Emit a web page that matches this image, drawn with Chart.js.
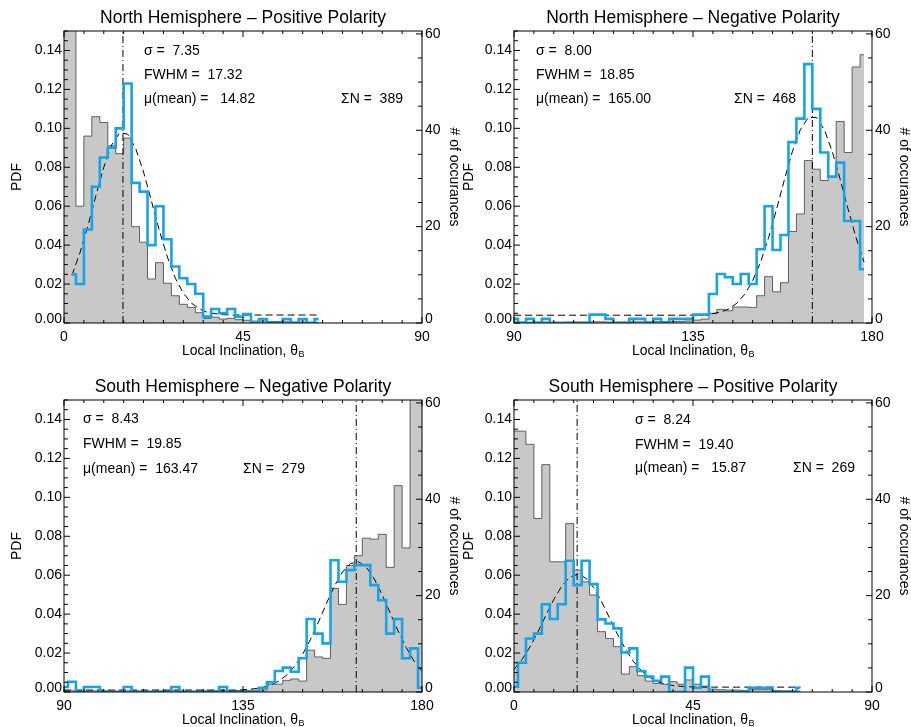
<!DOCTYPE html>
<html>
<head>
<meta charset="utf-8">
<script src="https://cdn.jsdelivr.net/npm/chart.js@4.4.1/dist/chart.umd.min.js"></script>
<style>
  body { margin: 0; background: #fff; }
  #wrap { position: relative; width: 911px; height: 727px; overflow: hidden; background: #fff; }
  canvas { position: absolute; }
</style>
</head>
<body>
<div id="wrap">
  <canvas id="c0" width="470" height="370" style="left:0;top:0"></canvas>
  <canvas id="c1" width="461" height="370" style="left:450px;top:0"></canvas>
  <canvas id="c2" width="470" height="367" style="left:0;top:360px"></canvas>
  <canvas id="c3" width="461" height="367" style="left:450px;top:360px"></canvas>
</div>
<script>
// bin centres (degrees)
var incPos = [0,2,4,6,8,10,12,14,16,18,20,22,24,26,28,30,32,34,36,38,40,42,44,46,48,50,52,54,56,58,60,62,64,66,68,70,72,74,76,78,80,82,84,86,88,90];
var incNeg = [90,92,94,96,98,100,102,104,106,108,110,112,114,116,118,120,122,124,126,128,130,132,134,136,138,140,142,144,146,148,150,152,154,156,158,160,162,164,166,168,170,172,174,176,178,180];

var pdfTicks = [0, 0.02, 0.04, 0.06, 0.08, 0.10, 0.12, 0.14];
var countTicks = [0, 20, 40, 60];

// North, positive polarity
var grayNP = [0.2,0.2,0.060,0.096,0.106,0.103,0.091,0.087,0.095,0.0495,0.0415,0.0226,0.031,0.0204,0.014,0.0096,0.008,0.0053,0.0024,0.003,0.002,0.0024,0.0017,0.0014,0.001,0.001,0.0008,0.0008,0.0006,0.0005,0.0005,0.0004,0.0003,null,null,null,null,null,null,null,null,null,null,null,null,null];
var blueNP = [null,0.025,0.020,0.048,0.070,0.085,0.090,0.100,0.123,0.072,0.0675,0.040,0.060,0.043,0.029,0.023,0.020,0.015,0.0033,0.0072,0.005,0.0072,0.0033,0.0046,0,0.002,0,0,0.002,0,0.002,0,0.002,null,null,null,null,null,null,null,null,null,null,null,null,null];
var fitNP = [null,0.0245,0.036,0.0498,0.0653,0.080,0.0915,0.0978,0.097,0.0898,0.0775,0.0625,0.0473,0.0338,0.023,0.0153,0.0103,0.0073,0.0055,0.0048,0.0043,0.0041,0.0041,0.0041,0.0041,0.0041,0.0041,0.0041,0.0041,0.0041,0.0041,0.0041,0.0041,null,null,null,null,null,null,null,null,null,null,null,null,null];

// North, negative polarity
var grayNN = [0.0005,0.0005,0.0004,0.0005,0.0005,0.0004,0.0004,0.0005,0.0005,0.0005,0.0006,0.0006,0.0005,0.0005,0.0005,0.0006,0.0006,0.0006,0.0007,0.0007,0.0008,0.0008,0.001,0.0015,0.002,0.005,0.007,0.0063,0.0082,0.0082,0.008,0.014,0.0238,0.016,0.0207,0.047,0.056,0.0835,0.079,0.0732,0.0752,0.1035,0.0876,0.1315,0.1378,null];
var blueNN = [0.0021,0,0.0021,0,0.0021,0,0,0,0,0,0.0043,0.0043,0.0021,0,0,0.0021,0.0021,0,0.0021,0,0.0021,0.0021,0.0021,0.0043,0.0043,0.0149,0.0252,0.0235,0.020,0.0252,0.020,0.0379,0.060,0.0375,0.0452,0.0929,0.105,0.133,0.110,0.0876,0.0752,0.0824,0.0524,0.0524,0.0276,null];
var fitNN = [0.004,0.004,0.004,0.004,0.004,0.004,0.004,0.004,0.004,0.004,0.004,0.004,0.004,0.004,0.004,0.004,0.004,0.004,0.004,0.004,0.004,0.004,0.004,0.0041,0.0043,0.0048,0.0056,0.0073,0.0101,0.0147,0.0217,0.0313,0.0438,0.0584,0.0738,0.0882,0.0994,0.1056,0.1056,0.0994,0.0882,0.0738,0.0584,0.0438,0.0313,null];

// South, negative polarity
var graySN = [0.0006,0.0006,0.0005,0.0005,0.0006,0.0006,0.0005,0.0005,0.0006,0.0006,0.0005,0.0005,0.0006,0.0006,0.0006,0.0005,0.0005,0.0006,0.0006,0.0007,0.0007,0.0007,0.0008,0.0008,0.0009,0.001,0.004,0.004,0.006,0.0067,0.0056,0.0215,0.018,0.0173,0.0532,0.045,0.065,0.070,0.079,0.0785,0.081,0.064,0.106,0.074,0.2,0.2];
var blueSN = [0.0026,0.0053,0,0.0026,0.0026,0,0,0,0.0026,0,0,0,0,0,0.0026,0,0,0,0,0,0.0026,0,0,0,0,0.0022,0.005,0.0108,0.0125,0.0104,0.0173,0.0375,0.030,0.025,0.0677,0.0566,0.0626,0.0652,0.0652,0.0549,0.0472,0.030,0.0375,0.0173,0.0224,0.0022];
var fitSN = [0.001,0.001,0.001,0.001,0.001,0.001,0.001,0.001,0.001,0.001,0.001,0.001,0.001,0.001,0.001,0.001,0.001,0.001,0.001,0.001,0.001,0.001,0.001,0.0013,0.0017,0.0024,0.0036,0.0056,0.0087,0.0133,0.0194,0.0271,0.0361,0.0456,0.0545,0.0616,0.066,0.0669,0.0641,0.0581,0.0499,0.0406,0.0313,0.0229,0.0159,0.0107];

// South, positive polarity
var graySP = [0.134,0.134,0.1272,0.0891,0.1168,0.0669,0.0669,0.0865,0.0626,0.0566,0.0498,0.031,0.0275,0.0233,0.0092,0.013,0.0084,0.0056,0.0044,0.004,0.0053,0.004,0.0062,0.004,0.003,0.0015,0.0012,0.001,0.001,0.0008,0.0012,0.0012,0.0012,0.0008,0.0006,0.0006,0.0005,null,null,null,null,null,null,null,null,null];
var blueSP = [0.0027,0.015,0.0275,0.030,0.0451,0.0375,0.0451,0.0674,0.0549,0.0674,0.0554,0.0373,0.0352,0.0327,0.0203,0.0224,0.0108,0.0079,0.0058,0.0079,0,0,0.0125,0.0022,0.0079,0,0,0,0,0,0.0022,0.0022,0.0022,0,0,0,0.0022,null,null,null,null,null,null,null,null,null];
var fitSP = [0.0116,0.0166,0.0231,0.0308,0.0393,0.0475,0.0544,0.059,0.0605,0.0586,0.0537,0.0465,0.0381,0.0297,0.0221,0.0158,0.011,0.0077,0.0054,0.0041,0.0033,0.0029,0.0027,0.0025,0.0025,0.0025,0.0025,0.0025,0.0025,0.0025,0.0025,0.0025,0.0025,0.0025,0.0025,0.0025,0.0025,null,null,null,null,null,null,null,null,null];

var sigmas = ['7.35', '8.00', '8.43', '8.24'];
var fwhms = ['17.32', '18.85', '19.85', '19.40'];
var means = [14.82, 165.00, 163.47, 15.87];
var counts = [389, 468, 279, 269];

var Y_MAX = 0.15, N_MAX = 60.6;
var BLUE = '#17a3e8';
var FONT = '"Liberation Sans", Arial, Helvetica, sans-serif';

Chart.defaults.font.family = FONT;
Chart.defaults.font.size = 14;
Chart.defaults.color = '#000';

var panels = [
  { id: 'c0', title: 'North Hemisphere \u2013 Positive Polarity', bins: incPos, lo: 0, hi: 90,
    gray: grayNP, blue: blueNP, fit: fitNP, k: 0, top: 31, bottom: 323,
    notes: [80, 277, 19.7, 44, 68.3], meanPad: '   ', pdfX: 47 },
  { id: 'c1', title: 'North Hemisphere \u2013 Negative Polarity', bins: incNeg, lo: 90, hi: 180,
    gray: grayNN, blue: blueNN, fit: fitNN, k: 1, top: 31, bottom: 323,
    notes: [22, 220, 19.7, 44, 68.3], meanPad: '  ', pdfX: 45 },
  { id: 'c2', title: 'South Hemisphere \u2013 Negative Polarity', bins: incNeg, lo: 90, hi: 180,
    gray: graySN, blue: blueSN, fit: fitSN, k: 2, top: 40, bottom: 332,
    notes: [19, 179, 19.5, 44.5, 69.5], meanPad: '  ', pdfX: 47 },
  { id: 'c3', title: 'South Hemisphere \u2013 Positive Polarity', bins: incPos, lo: 0, hi: 90,
    gray: graySP, blue: blueSP, fit: fitSP, k: 3, top: 40, bottom: 332,
    notes: [121, 279, 20.5, 44.8, 68.5], meanPad: '   ', pdfX: 45 }
];

// box, inward ticks, y labels and the text of each panel
var framePlugin = {
  id: 'frame',
  afterDatasetsDraw: function (chart, args, p) {
    var ctx = chart.ctx, a = chart.chartArea;
    var x = chart.scales.x, y = chart.scales.y, y2 = chart.scales.y2;
    ctx.save();
    ctx.strokeStyle = '#000';
    ctx.lineWidth = 1;
    ctx.strokeRect(a.left, a.top, a.right - a.left, a.bottom - a.top);
    ctx.beginPath();
    for (var v = x.min; v <= x.max; v += 5) {
      var px = x.getPixelForValue(v);
      var len = (v % 45 === 0) ? 6 : 3;
      ctx.moveTo(px, a.bottom); ctx.lineTo(px, a.bottom - len);
      ctx.moveTo(px, a.top); ctx.lineTo(px, a.top + len);
    }
    for (var i = 0; i <= 30; i++) {
      var py = y.getPixelForValue(i * 0.005);
      ctx.moveTo(a.left, py); ctx.lineTo(a.left + (i % 4 === 0 ? 6 : 4), py);
    }
    for (var n = 0; n <= 60; n += 5) {
      var qy = y2.getPixelForValue(n);
      ctx.moveTo(a.right, qy); ctx.lineTo(a.right - (n % 20 === 0 ? 6 : 4), qy);
    }
    ctx.stroke();
    ctx.restore();
  },
  afterDraw: function (chart, args, p) {
    var ctx = chart.ctx, a = chart.chartArea;
    var y = chart.scales.y, y2 = chart.scales.y2;
    var cx = (a.left + a.right) / 2, cy = (a.top + a.bottom) / 2;
    ctx.save();
    ctx.fillStyle = '#000';
    ctx.textBaseline = 'middle';

    // axis labels; the bottom ones sit a little above the axis
    ctx.font = '14px ' + FONT;
    ctx.textAlign = 'right';
    pdfTicks.forEach(function (v) {
      ctx.fillText(v.toFixed(2), a.left - 2, y.getPixelForValue(v) - (v === 0 ? 3.5 : 0));
    });
    ctx.textAlign = 'left';
    countTicks.forEach(function (v) {
      ctx.fillText(String(v), a.right + 3, y2.getPixelForValue(v) - (v === 0 ? 3.5 : 0));
    });

    ctx.textAlign = 'center';
    ctx.font = '17.5px ' + FONT;
    ctx.fillText(p.title, cx, a.top - 12.7);

    ctx.font = '14px ' + FONT;
    ctx.textAlign = 'left';
    var nx = a.left + p.notes[0];
    ctx.fillText('\u03c3 =  ' + sigmas[p.k], nx, a.top + p.notes[2]);
    ctx.fillText('FWHM =  ' + fwhms[p.k], nx, a.top + p.notes[3]);
    ctx.fillText('\u03bc(mean) =' + p.meanPad + means[p.k].toFixed(2), nx, a.top + p.notes[4]);
    ctx.fillText('\u03a3N =  ' + counts[p.k], a.left + p.notes[1], a.top + p.notes[4]);

    // x title with subscript
    var main = 'Local Inclination, \u03b8';
    var w1 = ctx.measureText(main).width;
    ctx.font = '9px ' + FONT;
    var w2 = ctx.measureText('B').width;
    var sx = cx - (w1 + w2) / 2, sy = a.bottom + 28;
    ctx.font = '14px ' + FONT;
    ctx.fillText(main, sx, sy);
    ctx.font = '9px ' + FONT;
    ctx.fillText('B', sx + w1 + 0.5, sy + 4);

    ctx.font = '14px ' + FONT;
    ctx.textAlign = 'center';
    ctx.save();
    ctx.translate(a.left - p.pdfX, cy);
    ctx.rotate(-Math.PI / 2);
    ctx.fillText('PDF', 0, 0);
    ctx.restore();
    ctx.save();
    ctx.translate(a.right + 32, cy);
    ctx.rotate(Math.PI / 2);
    ctx.fillText('# of occurances', 0, 0);
    ctx.restore();
    ctx.restore();
  }
};

function pts(bins, vals) {
  return bins.map(function (b, i) { return { x: b, y: vals[i] }; });
}

panels.forEach(function (p) {
  var cv = document.getElementById(p.id);
  var W = cv.width, H = cv.height;
  var L = 64, R = 422;
  new Chart(cv, {
    type: 'line',
    data: {
      datasets: [
        { data: pts(p.bins, p.blue), borderColor: BLUE, borderWidth: 2.6, stepped: 'middle',
          pointRadius: 0, fill: false },
        { data: pts(p.bins, p.fit), borderColor: '#000', borderWidth: 1, borderDash: [7, 4],
          pointRadius: 0, fill: false },
        { data: [{ x: means[p.k], y: 0 }, { x: means[p.k], y: Y_MAX }], borderColor: '#000',
          borderWidth: 1, borderDash: [7, 3, 1, 3], pointRadius: 0, fill: false },
        { data: pts(p.bins, p.gray), borderColor: '#5e5e5e', borderWidth: 1, backgroundColor: '#c8c8c8',
          stepped: 'middle', pointRadius: 0, fill: 'origin' }
      ]
    },
    options: {
      responsive: false,
      animation: false,
      devicePixelRatio: 1,
      layout: { padding: { top: p.top, left: 0, right: 0, bottom: 0 } },
      plugins: { legend: { display: false }, tooltip: { enabled: false }, frame: p },
      scales: {
        x: {
          type: 'linear', min: p.lo, max: p.hi,
          afterFit: function (s) { s.height = H - p.bottom; },
          ticks: { stepSize: 45, padding: 6, maxRotation: 0, autoSkip: false, includeBounds: false },
          grid: { display: false, drawTicks: false }, border: { display: false }
        },
        y: {
          position: 'left', min: 0, max: Y_MAX,
          afterFit: function (s) { s.width = L; },
          afterBuildTicks: function (s) { s.ticks = pdfTicks.map(function (v) { return { value: v }; }); },
          ticks: { display: false },
          grid: { display: false, drawTicks: false }, border: { display: false }
        },
        y2: {
          type: 'linear', position: 'right', min: 0, max: N_MAX,
          afterFit: function (s) { s.width = W - R; },
          afterBuildTicks: function (s) { s.ticks = countTicks.map(function (v) { return { value: v }; }); },
          ticks: { display: false },
          grid: { display: false, drawTicks: false }, border: { display: false }
        }
      }
    },
    plugins: [framePlugin]
  });
});
</script>
</body>
</html>
